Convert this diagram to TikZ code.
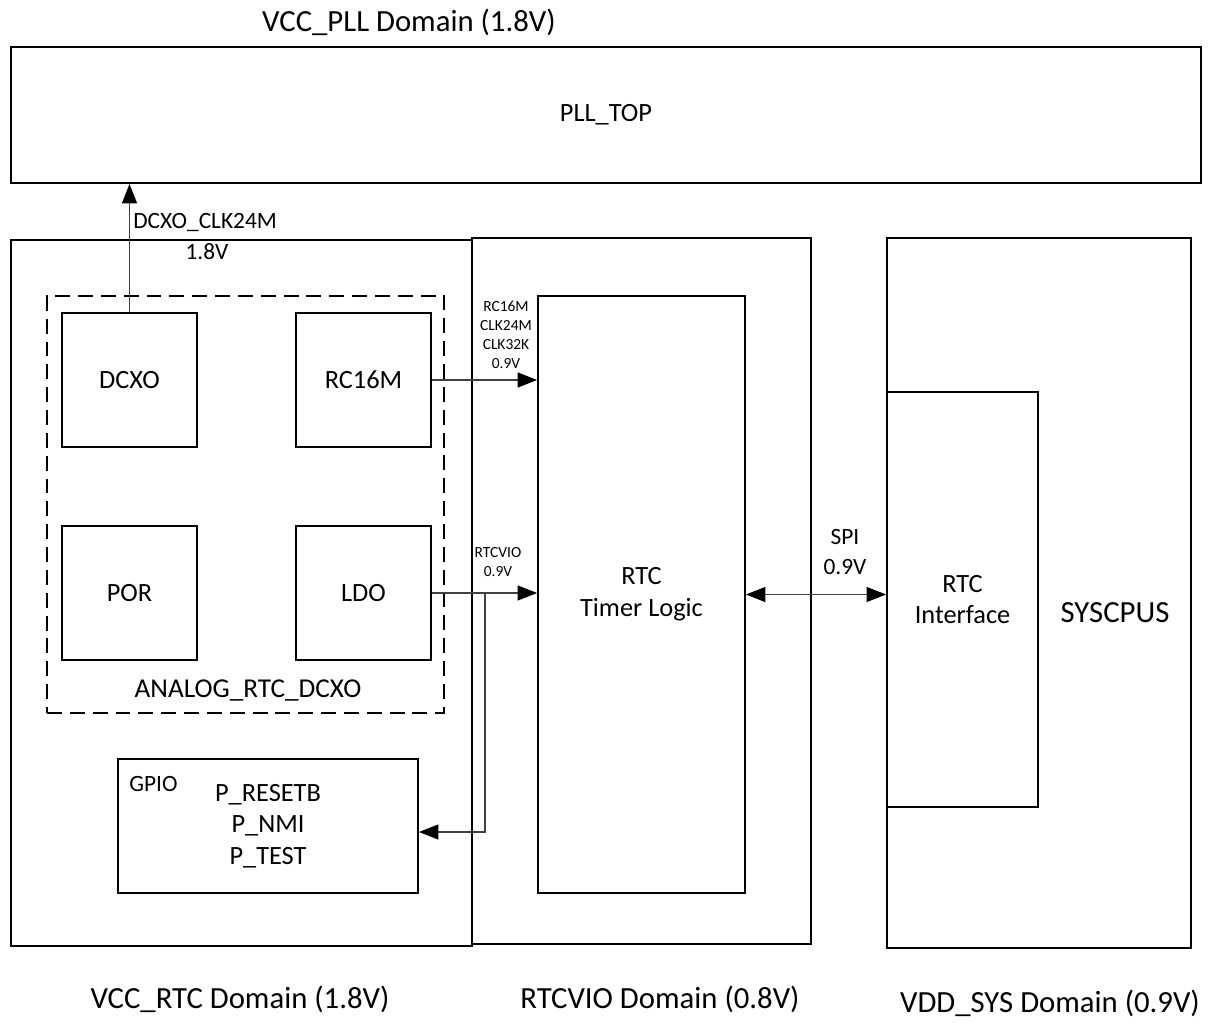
\documentclass[tikz,border=0pt]{standalone}
\usepackage{fontspec}
\setmainfont{Carlito}
\usetikzlibrary{arrows.meta}

\tikzset{
  blk/.style={draw, line width=1.1pt, minimum width=2.7cm, minimum height=2.68cm, inner sep=0pt, align=center, font=\fontsize{15}{18}\selectfont},
  sig/.style={draw=black!75, line width=0.6pt},
  tip/.style={-{Triangle[length=11pt,width=8.5pt,color=black]}},
  tag/.style={font=\fontsize{13.3}{17}\selectfont, inner sep=0pt, align=center},
  tinytag/.style={font=\fontsize{8.8}{10.8}\selectfont, inner sep=0pt, align=center},
  dom/.style={font=\fontsize{17.5}{21}\selectfont, inner sep=0pt}
}

\begin{document}
\begin{tikzpicture}[x=0.02cm, y=-0.02cm]
    \useasboundingbox (0,0) rectangle (1224,1027);

    % PLL domain
    \node[dom] (plltitle) at (409,22) {VCC\_PLL Domain (1.8V)};
    \node[blk, minimum width=23.8cm, minimum height=2.72cm] (plltop) at (606,115) {PLL\_TOP};

    % Domain boxes
    \node[blk, minimum width=9.22cm, minimum height=14.12cm] (rtcdom) at (241.5,593) {};
    \node[blk, minimum width=6.78cm, minimum height=14.12cm] (viodom) at (641.5,591) {};
    \node[blk, minimum width=6.08cm, minimum height=14.2cm] (sysdom) at (1039,593) {};

    % Analog block (dashed)
    \node[draw, line width=1.1pt, dash pattern=on 8.5pt off 4.5pt, minimum width=7.94cm, minimum height=8.34cm] (analog) at (245.5,504.5) {};
    \node[dom, font=\fontsize{15.5}{18}\selectfont] (analogtag) at (248,690) {ANALOG\_RTC\_DCXO};
    \node[blk] (dcxo) at (129.5,380) {DCXO};
    \node[blk] (rc16m) at (363.5,380) {RC16M};
    \node[blk] (por) at (129.5,593) {POR};
    \node[blk] (ldo) at (363.5,593) {LDO};

    % GPIO
    \node[blk, minimum width=6cm, minimum height=2.68cm] (gpio) at (268,826) {P\_RESETB\\P\_NMI\\P\_TEST};
    \node[tag, anchor=north west] (gpiotag) at (129,776) {GPIO};

    % Timer logic and interface
    \node[blk, minimum width=4.14cm, minimum height=11.94cm] (timer) at (641.5,594.5) {RTC\\Timer Logic};
    \node[blk, minimum width=3.02cm, minimum height=8.3cm] (rtcif) at (962.5,599.5) {RTC\\Interface};
    \node[dom] (syscpus) at (1115,613) {SYSCPUS};

    % Signals
    \draw[sig, tip] (dcxo.north) -- (dcxo.north |- plltop.south);
    \node[tag, anchor=west] (clktag) at (133,222) {DCXO\_CLK24M};
    \node[tag] (clkvolt) at (207,252) {1.8V};

    \draw[sig, tip] (rc16m.east) -- (rc16m.east -| timer.west);
    \node[tinytag] (rctag) at (506,335) {RC16M\\CLK24M\\CLK32K\\0.9V};

    \draw[sig, tip] (ldo.east) -- (ldo.east -| timer.west);
    \node[tinytag] (viotag) at (498,562) {RTCVIO\\0.9V};
    \coordinate (tap) at (485,593);
    \coordinate (tapb) at (485,832);
    \draw[sig, tip] (tap) -- (tapb) -- (tapb -| gpio.east);

    \draw[sig, {Triangle[length=11pt,width=8.5pt,color=black]}-{Triangle[length=11pt,width=8.5pt,color=black]}] (timer.east) -- (timer.east -| rtcif.west);
    \node[tag] (spitag) at (845,552) {SPI\\0.9V};

    % Domain labels
    \node[dom] (rtclabel) at (240,999) {VCC\_RTC Domain (1.8V)};
    \node[dom] (violabel) at (660,999) {RTCVIO Domain (0.8V)};
    \node[dom] (syslabel) at (1050,1003) {VDD\_SYS Domain (0.9V)};
\end{tikzpicture}
\end{document}
